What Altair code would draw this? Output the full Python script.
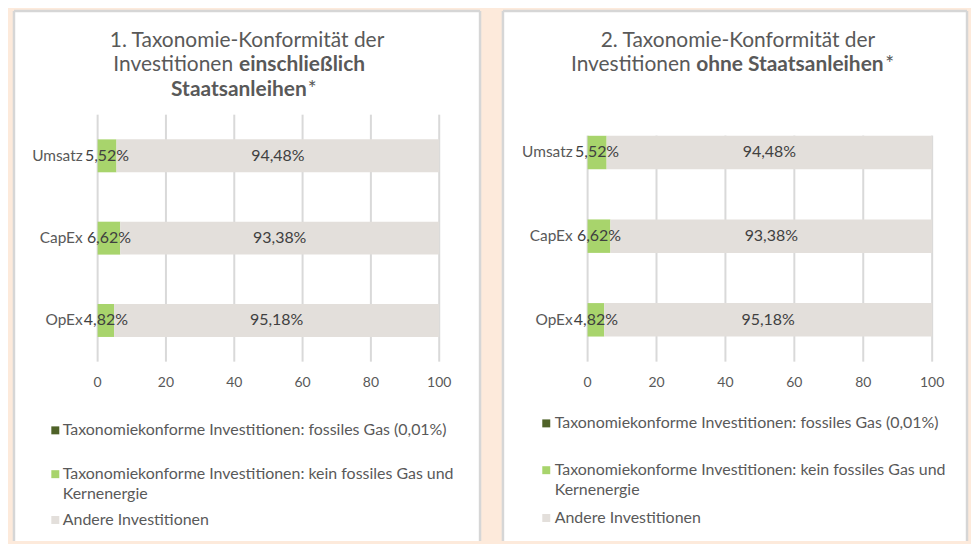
import altair as alt
import pandas as pd

# ---------------- data ----------------
categories = ["Umsatz", "CapEx", "OpEx"]
series = [
    "Taxonomiekonforme Investitionen: fossiles Gas (0,01%)",
    "Taxonomiekonforme Investitionen: kein fossiles Gas und Kernenergie",
    "Andere Investitionen",
]
series_colors = ["#4f6228", "#a8d46c", "#e3dfdb"]
legend_lines = [
    ["Taxonomiekonforme Investitionen: fossiles Gas (0,01%)"],
    ["Taxonomiekonforme Investitionen: kein fossiles Gas und", "Kernenergie"],
    ["Andere Investitionen"],
]
ticks = [0, 20, 40, 60, 80, 100]

p1_green = [5.52, 6.62, 4.82]
p1_other = [94.48, 93.38, 95.18]
p2_green = [5.52, 6.62, 4.82]
p2_other = [94.48, 93.38, 95.18]

p1_title = ["1. Taxonomie-Konformität der", "Investitionen", "einschließlich", "Staatsanleihen", "*"]
p2_title = ["2. Taxonomie-Konformität der", "Investitionen", "ohne Staatsanleihen", "*"]

FONT = "Lato"
GREY_TXT = "#595959"
BORDER = "#d6d6d6"


def txt(s, x, y, size, weight="normal", align="left", color=GREY_TXT, font=FONT):
    return alt.Chart(pd.DataFrame({"t": [s]})).mark_text(
        font=font, fontSize=size, fontWeight=weight, align=align,
        baseline="middle", color=color
    ).encode(x=alt.value(x), y=alt.value(y), text="t:N")


def edge(x1, x2, y1, y2):
    return alt.Chart(pd.DataFrame({"e": [0]})).mark_rule(
        color=BORDER, strokeWidth=2.5
    ).encode(x=alt.value(x1), x2=alt.value(x2), y=alt.value(y1), y2=alt.value(y2))


def panel(green, other_vals, title_specs, L, W, H):
    df = pd.DataFrame({
        "cat": categories * 2,
        "series": [series[1]] * 3 + [series[2]] * 3,
        "idx": [1] * 3 + [2] * 3,
        "value": green + other_vals,
    })
    df["label"] = df["value"].map(lambda v: f"{v:.2f}".replace(".", ",") + "%")

    xs = alt.Scale(domain=[0, 100], range=L["xrange"], zero=False, nice=False)
    ys = alt.Scale(domain=categories, range=L["yrange"], paddingInner=0.6, paddingOuter=0.3)
    cs = alt.Scale(domain=series, range=series_colors)

    grid = alt.Chart(pd.DataFrame({"tick": ticks})).mark_rule(
        color="#d9d9d9", strokeWidth=2
    ).encode(
        x=alt.X("tick:Q", scale=xs, axis=None),
        y=alt.value(L["grid"][0]), y2=alt.value(L["grid"][1]),
    )
    tick_labels = alt.Chart(pd.DataFrame({"tick": ticks})).mark_text(
        font=FONT, fontSize=14, color=GREY_TXT, baseline="middle"
    ).encode(
        x=alt.X("tick:Q", scale=xs, axis=None),
        y=alt.value(L["ticky"]),
        text=alt.Text("tick:Q", format="d"),
    )

    base = alt.Chart(df).transform_stack(
        stack="value", groupby=["cat"], as_=["x0", "x1"],
        sort=[alt.SortField(field="idx", order="ascending")],
    ).transform_calculate(mid="(datum.x0 + datum.x1) / 2")

    bars = base.mark_bar().encode(
        x=alt.X("x0:Q", scale=xs, axis=None), x2="x1:Q",
        y=alt.Y("cat:N", scale=ys, axis=None),
        color=alt.Color("series:N", scale=cs, legend=None),
    )
    labels = base.mark_text(font=FONT, fontSize=16, color="#404040", baseline="middle").encode(
        x=alt.X("mid:Q", scale=xs, axis=None),
        y=alt.Y("cat:N", scale=ys, axis=None),
        text="label:N",
    )
    cat_labels = alt.Chart(pd.DataFrame({"cat": categories})).mark_text(
        font=FONT, fontSize=15.5, color=GREY_TXT, align="right", baseline="middle"
    ).encode(
        x=alt.value(L["catx"]),
        y=alt.Y("cat:N", scale=ys, axis=None),
        text="cat:N",
    )

    layers = [edge(0, 0, 0, H), edge(W, W, 0, H), edge(0, W, 0, 0),
              grid, bars, labels, cat_labels, tick_labels]

    # legend
    for i, s in enumerate(series):
        sq = alt.Chart(pd.DataFrame({"series": [s]})).mark_square(size=64, opacity=1).encode(
            x=alt.value(L["legsq"]), y=alt.value(L["legy"][i]),
            color=alt.Color("series:N", scale=cs, legend=None),
        )
        layers.append(sq)
        for j, line in enumerate(legend_lines[i]):
            layers.append(txt(line, L["legtx"], L["legy"][i] + 20 * j, 16))

    # title
    for (s, x, y, weight, align) in title_specs:
        layers.append(txt(s, x, y, 21, weight, align))

    return alt.layer(*layers).properties(width=W, height=H)


L1 = dict(xrange=[84, 427], yrange=[104, 352], grid=(104, 352), ticky=373, catx=69,
          legsq=41.5, legtx=49, legy=[421, 465, 511])
L2 = dict(xrange=[85, 431], yrange=[100, 352], grid=(125, 352), ticky=373, catx=70,
          legsq=43.5, legtx=52, legy=[414, 461, 509])

t1 = [
    (p1_title[0], 234, 30, "normal", "center"),
    (p1_title[1], 220, 54, "normal", "right"),
    (p1_title[2], 226, 54, "bold", "left"),
    (p1_title[3], 294, 79, "bold", "right"),
    (p1_title[4], 295, 79, "normal", "left"),
]
t2 = [
    (p2_title[0], 236, 30, "normal", "center"),
    (p2_title[1], 188.5, 54, "normal", "right"),
    (p2_title[2], 194, 54, "bold", "left"),
    (p2_title[3], 384, 54, "normal", "left"),
]

P1 = panel(p1_green, p1_other, t1, L1, 468, 532)
P2 = panel(p2_green, p2_other, t2, L2, 466, 532)

chart = alt.hconcat(P1, P2, spacing=23, bounds="flush").properties(
    background="#fdeadb",
    padding={"left": 4, "top": 0, "right": 2, "bottom": 0},
).configure_view(fill="white", strokeWidth=0)

chart.save("out.html", embed_options={"renderer": "svg", "actions": False})
